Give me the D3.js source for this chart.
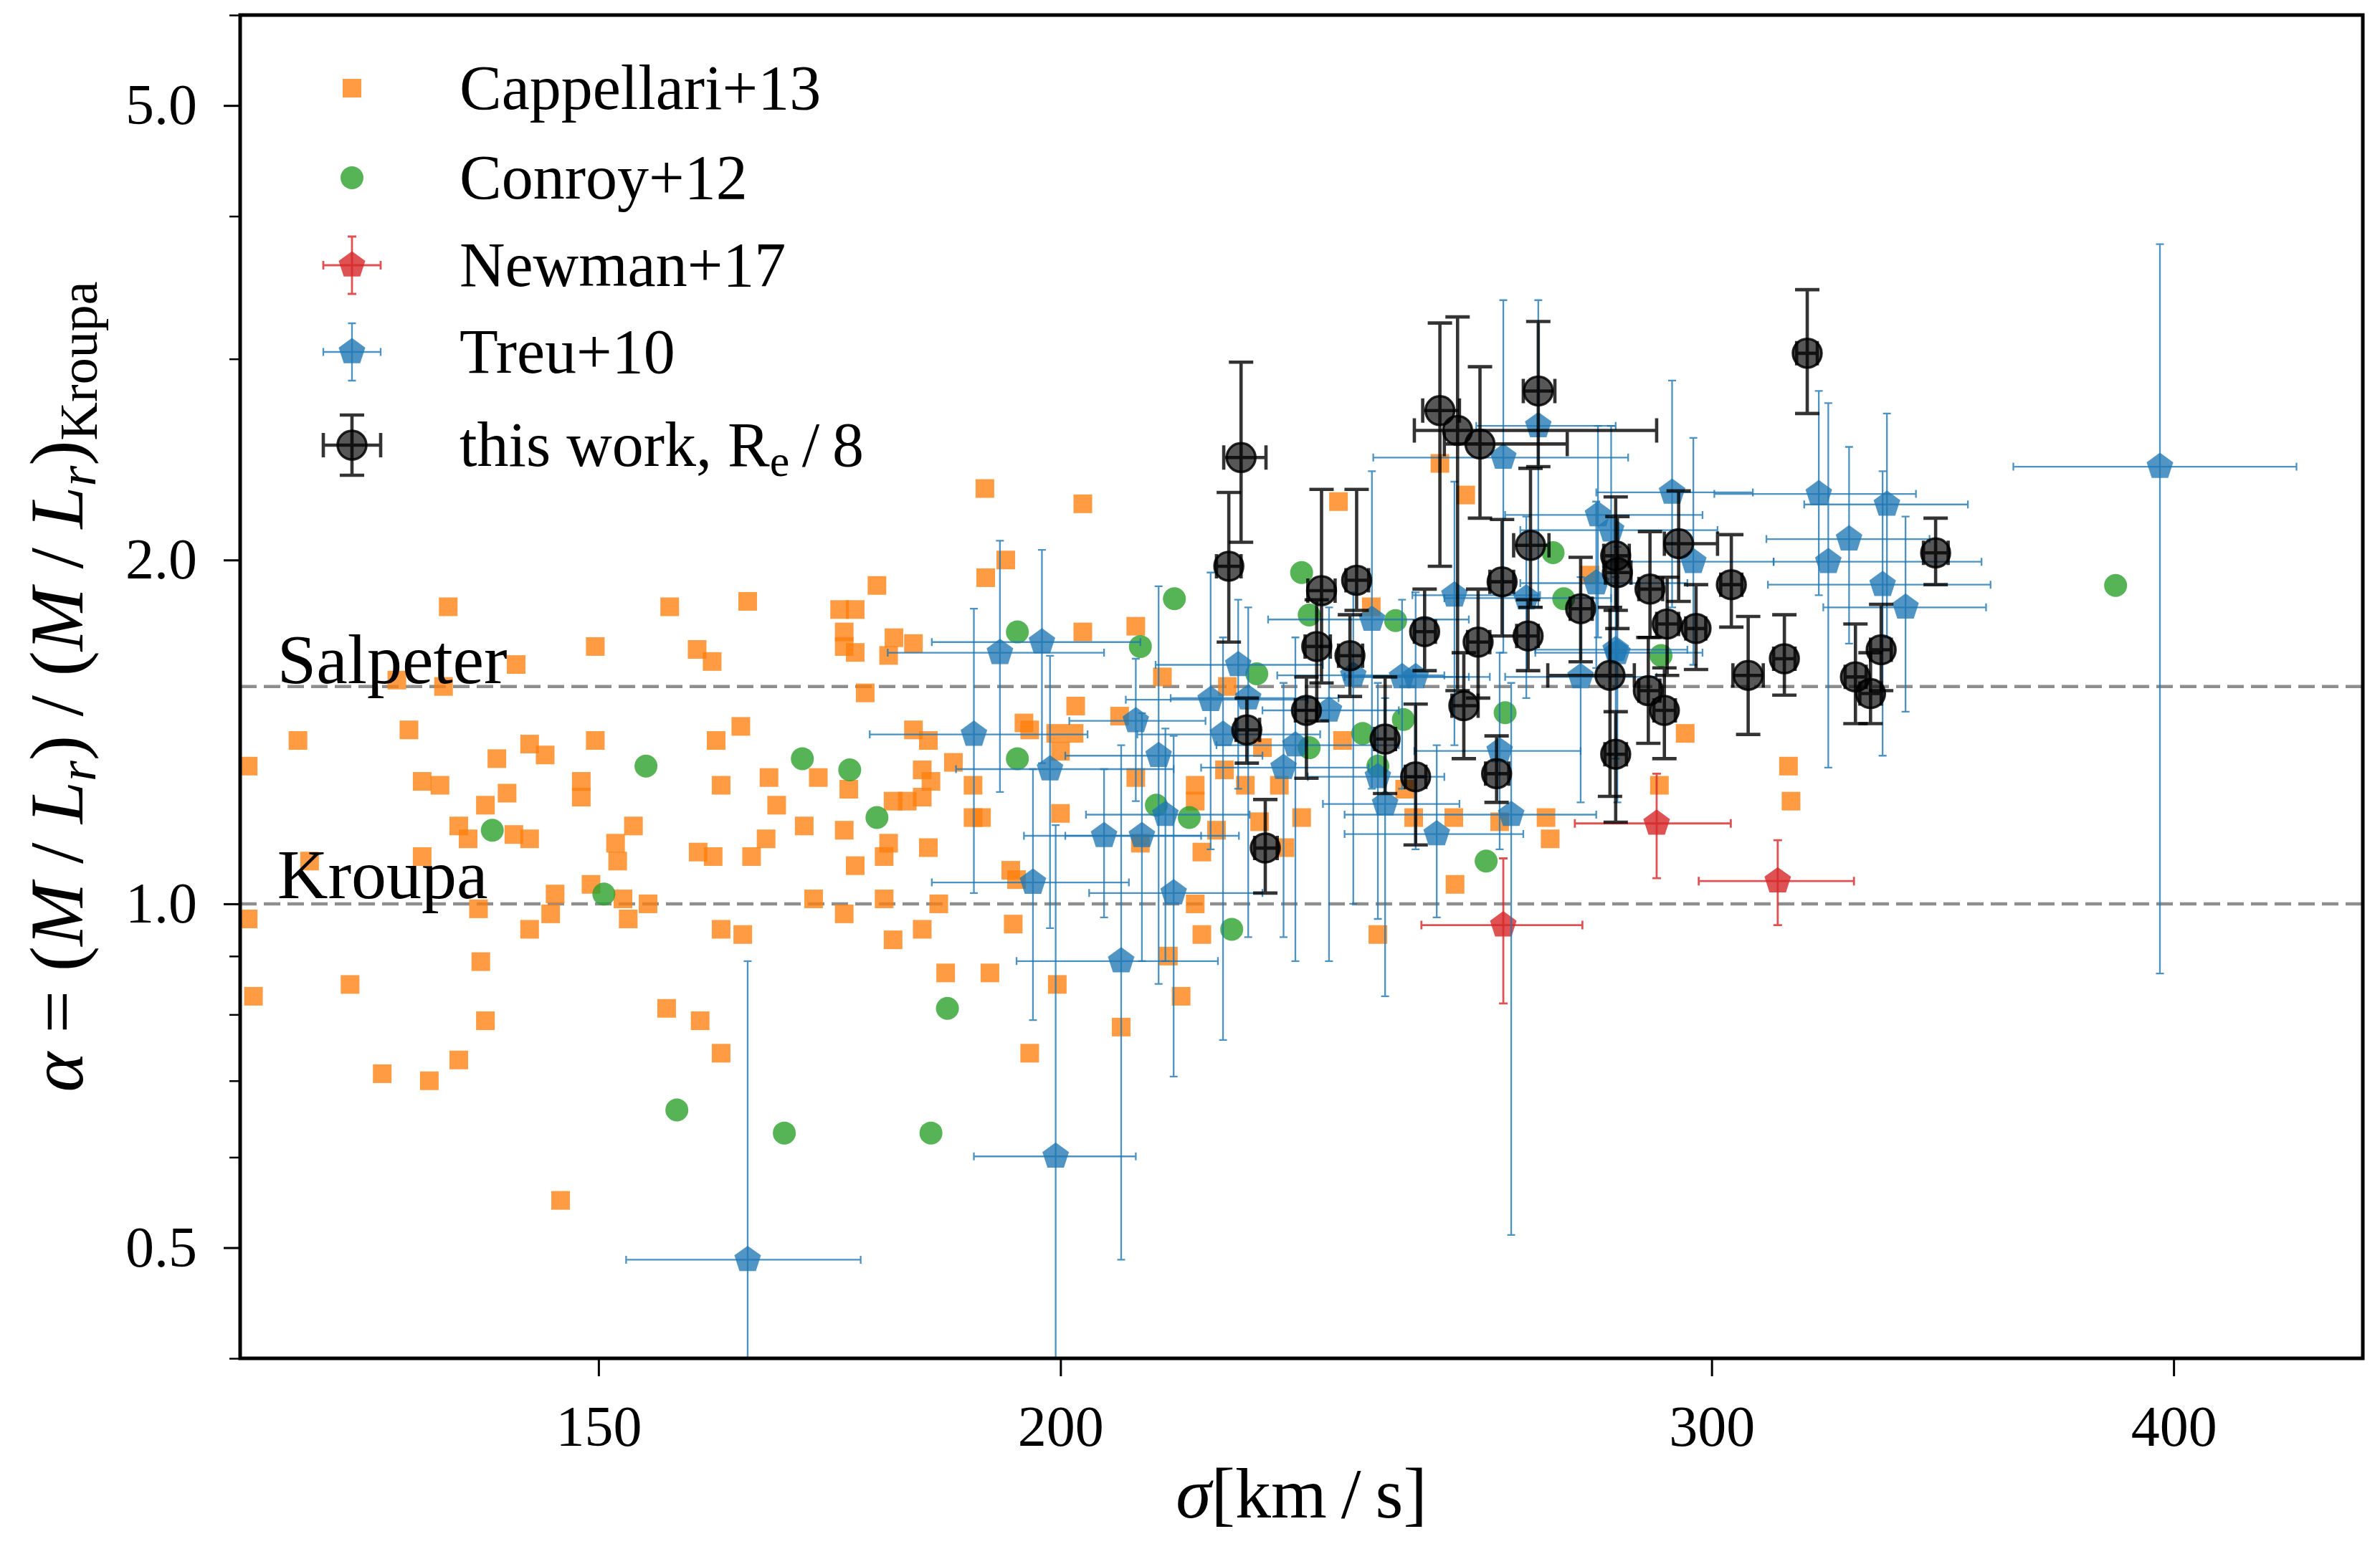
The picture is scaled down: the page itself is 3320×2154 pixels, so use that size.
<!DOCTYPE html>
<html><head><meta charset="utf-8">
<script src="https://cdn.jsdelivr.net/npm/d3@7"></script>
<style>body{margin:0;background:#fff}</style>
</head><body>
<svg id="chart" width="3320" height="2154"></svg>
<script>
// ---------------- DATA ----------------
const sigmaTicks = [150, 200, 300, 400];
const alphaTicks = [0.5, 1.0, 2.0, 5.0];
const alphaMinorTicks = [0.4, 0.6, 0.7, 0.8, 0.9, 3, 4, 6];
const salpeterAlpha = 1.55, kroupaAlpha = 1.0;

const cappellariSigma = [120.6,120.6,121.0,124.4,125.3,128.5,131.1,132.3,133.3,134.4,134.4,135.0,135.9,136.2,136.6,137.5,137.5,138.3,139.2,139.4,139.8,139.8,140.8,141.7,142.3,142.5,143.7,143.7,143.7,145.1,145.6,146.0,146.5,148.4,148.4,149.3,149.7,149.7,151.6,151.8,152.3,152.8,153.3,154.7,156.5,156.8,159.5,159.6,159.8,161.0,161.1,161.4,161.9,161.9,161.9,163.9,164.1,164.6,165.0,166.5,166.8,167.6,170.5,171.5,172.0,174.3,174.8,174.8,174.8,174.8,175.3,176.0,176.0,176.0,177.1,178.4,179.2,179.2,179.7,179.7,180.2,180.2,180.3,181.8,182.5,182.5,183.5,183.5,183.5,184.2,184.2,184.5,185.4,186.2,187.1,189.4,189.4,190.4,190.8,190.9,191.4,193.3,193.9,194.2,194.6,195.5,196.2,196.2,199.4,199.6,200.0,200.0,201.7,201.9,202.8,202.8,207.5,207.7,209.6,209.6,210.2,213.1,213.9,215.6,217.5,217.5,217.5,218.4,218.4,220.4,221.5,224.4,226.8,229.2,237.8,238.4,243.7,247.8,249.2,253.3,255.7,257.4,271.3,290.4,295.1,314.7,315.2,221.9,232.4,226.4,230.0,255.5,262.9,270.6,242.7,278.1];
const cappellariAlpha = [1.32,0.97,0.83,1.39,1.09,0.85,0.71,1.57,1.42,1.28,1.10,0.70,1.27,1.55,1.82,1.17,0.73,1.14,0.99,0.89,1.22,0.79,1.34,1.25,1.15,1.62,1.38,1.14,0.95,1.35,0.98,1.02,0.55,1.28,1.24,1.04,1.68,1.39,1.13,1.09,1.01,0.97,1.17,1.00,0.81,1.82,1.67,1.11,0.79,1.63,1.10,1.39,1.27,0.95,0.74,1.43,0.94,1.84,1.10,1.14,1.29,1.22,1.17,1.01,1.29,1.81,1.73,1.68,1.16,0.98,1.26,1.81,1.66,1.08,1.53,1.90,1.10,1.01,1.65,1.13,1.23,0.93,1.71,1.23,1.69,1.42,1.31,1.24,0.95,1.39,1.12,1.28,1.00,0.87,1.33,1.27,1.19,1.19,2.31,1.93,0.87,2.00,1.07,0.96,1.05,1.44,1.42,0.74,1.41,0.85,1.36,1.20,1.41,1.49,2.24,1.73,1.46,0.78,1.75,1.29,1.13,1.58,0.90,0.83,1.27,1.23,1.00,1.11,0.94,1.16,1.31,1.27,1.37,1.27,2.25,1.39,0.94,1.26,1.19,2.43,1.04,2.28,1.14,1.27,1.41,1.32,1.23,1.55,1.19,1.18,1.12,1.19,1.18,1.19,1.82,1.94];

const conroySigma = [140.4,150.5,154.5,157.5,168.4,170.3,175.4,178.4,184.5,186.4,194.7,194.7,210.2,214.7,212.3,216.7,222.5,232.4,233.5,246.4,271.8,273.6,226.0,247.6,241.4,233.5,243.7,263.8,260.7,290.7,385.8];
const conroyAlpha = [1.16,1.02,1.32,0.66,0.63,1.34,1.31,1.19,0.63,0.81,1.73,1.34,1.68,1.85,1.22,1.19,0.95,1.95,1.79,1.77,2.03,1.85,1.59,1.45,1.41,1.37,1.32,1.47,1.09,1.65,1.90];

const newmanSigma = [263.5, 289.9, 312.6];
const newmanSigmaLo = [250.4, 275.5, 297.6];
const newmanSigmaHi = [276.8, 303.6, 327.8];
const newmanAlpha = [0.958, 1.176, 1.047];
const newmanAlphaLo = [0.818, 1.053, 0.958];
const newmanAlphaHi = [1.096, 1.300, 1.137];

const treuSigma = [164.6,192.6,197.7,189.5,198.7,196.6,199.4,207.7,205.5,210.4,209.6,212.6,213.5,214.6,219.6,221.3,223.4,224.8,231.5,229.8,236.4,240.0,247.4,249.5,243.7,244.8,252.8,264.8,262.9,276.5,282.9,242.8,255.6,263.5,269.3,279.5,281.8,279.2,282.6,267.3,292.7,296.6,320.7,334.6,326.8,322.6,333.7,338.5,396.6];
const treuSigmaLo = [152.6,179.6,184.6,177.6,187.4,184.6,189.5,194.6,195.5,200.6,201.1,200.6,203.2,203.6,208.3,209.8,212.2,214.2,220.4,218.3,226.8,228.9,238.7,238.7,233.3,235.5,238.7,238.7,249.3,263.8,268.8,227.6,249.0,243.0,259.1,263.8,266.3,266.3,268.8,254.0,279.2,281.8,300.5,317.8,310.4,311.8,310.7,321.6,362.0];
const treuSigmaHi = [176.6,205.5,210.2,203.4,214.6,208.7,209.6,220.6,218.3,223.5,218.9,226.8,225.0,226.8,233.3,235.1,235.5,237.8,246.9,242.3,246.9,254.0,257.9,261.3,254.0,256.4,266.8,279.2,276.5,289.9,298.3,257.9,269.6,284.8,282.6,298.3,301.1,295.5,295.5,281.8,307.8,311.8,340.7,351.9,343.6,354.9,356.9,355.9,431.8];
const treuAlpha = [0.488,1.659,1.695,1.407,1.312,1.044,0.601,0.891,1.147,1.147,1.446,1.348,1.197,1.022,1.509,1.407,1.619,1.514,1.377,1.316,1.477,1.585,1.580,1.580,1.292,1.223,1.151,1.197,1.361,1.580,1.659,1.774,1.863,2.459,2.621,2.190,2.124,1.909,1.669,1.852,2.292,1.993,2.285,2.237,2.086,1.993,1.903,1.818,2.414];
const treuAlphaLo = [0.30,1.253,1.328,1.022,0.952,0.791,0.30,0.488,0.973,0.891,1.230,0.851,0.891,0.706,1.116,0.760,1.261,0.935,0.891,0.935,0.891,1.0,1.261,1.116,0.970,0.830,0.973,0.513,1.116,1.227,1.227,1.261,1.377,1.659,1.818,1.711,1.659,1.609,1.340,1.514,1.818,1.619,1.863,1.711,1.690,1.316,1.348,1.473,0.869];
const treuAlphaHi = [0.891,2.079,2.041,1.813,1.649,1.312,1.172,1.377,1.312,1.469,1.639,1.897,1.424,1.403,1.950,1.711,1.846,1.818,1.711,1.561,1.818,1.874,1.846,1.874,1.561,1.514,1.377,1.561,1.659,1.932,2.054,2.392,2.342,3.377,3.377,2.621,2.621,2.250,1.932,2.183,2.872,2.558,2.812,2.687,2.512,2.744,2.392,2.183,3.781];

const workSigma = [223.8,222.1,253.3,256.1,259.7,269.3,268.0,282.6,282.9,263.3,240.5,235.3,234.6,239.5,250.9,259.4,267.6,276.5,281.6,288.7,233.1,224.6,244.8,249.5,227.2,257.1,262.4,282.6,288.4,291.3,318.4,344.9,293.9,303.7,291.8,297.1,306.9,313.9,328.1,333.4,331.2];
const workSigmaLo = [221.4,220.4,250.6,249.3,254.0,266.8,265.2,280.5,280.8,261.3,238.9,233.3,232.9,237.8,249.3,257.7,265.7,274.7,270.9,286.7,231.5,223.1,243.2,247.9,225.7,255.2,260.6,280.7,286.7,289.4,316.3,342.3,291.3,301.7,289.9,295.2,304.0,311.8,326.0,331.2,329.0];
const workSigmaHi = [227.3,223.8,256.4,289.9,274.2,272.1,271.1,285.0,285.3,265.2,242.3,237.3,236.6,241.4,252.6,261.3,269.3,278.5,285.9,291.0,234.6,226.4,246.4,251.1,228.9,259.4,264.4,284.5,290.5,293.3,320.4,347.6,301.1,305.7,293.9,298.9,309.8,316.0,330.3,335.5,333.4];
const workAlpha = [2.459,1.975,2.703,2.597,2.527,2.812,2.060,2.017,1.950,1.914,1.920,1.880,1.680,1.649,1.731,1.695,1.716,1.813,1.585,1.886,1.477,1.420,1.394,1.292,1.119,1.491,1.300,1.352,1.537,1.477,3.034,2.029,2.067,1.903,1.758,1.742,1.585,1.639,1.580,1.669,1.528];
const workAlphaLo = [2.073,1.695,1.975,1.537,2.176,2.414,1.818,1.807,1.742,1.716,1.807,1.561,1.446,1.519,1.600,1.514,1.600,1.629,1.242,1.711,1.288,1.328,1.249,1.126,1.022,1.340,1.227,1.179,1.382,1.340,2.687,1.903,1.840,1.747,1.585,1.604,1.407,1.523,1.438,1.537,1.438];
const workAlphaHi = [2.980,2.292,3.225,3.265,2.953,3.235,2.406,2.271,2.183,2.170,2.306,2.306,1.846,1.791,1.886,1.886,1.846,2.011,1.818,2.118,1.580,1.514,1.580,1.496,1.234,1.659,1.403,1.473,1.711,1.609,3.449,2.176,2.299,2.105,1.932,1.903,1.785,1.791,1.758,1.829,1.659];

const legendLabels = ["Cappellari+13", "Conroy+12", "Newman+17", "Treu+10", "this work, R"];

// ---------------- CHART ----------------
const W = 3320, H = 2154;
const M = {left: 335, right: 3296, top: 21, bottom: 1895};
const FONT = '"Liberation Serif","DejaVu Serif",serif';
const COL = {orange: "#ff7f0e", green: "#2ca02c", red: "#d62728", blue: "#1f77b4"};

const x = d3.scaleLog().domain([120, 450]).range([M.left, M.right]);
const y = d3.scaleLog().domain([0.4, 6]).range([M.bottom, M.top]);

const svg = d3.select("#chart").style("font-family", FONT);
svg.append("rect").attr("width", W).attr("height", H).attr("fill", "#fff");
svg.append("defs").append("clipPath").attr("id", "clip").append("rect")
  .attr("x", M.left).attr("y", M.top).attr("width", M.right - M.left).attr("height", M.bottom - M.top);
const plot = svg.append("g").attr("clip-path", "url(#clip)");

function pentagon(cx, cy, R) {
  const p = [];
  for (let k = 0; k < 5; k++) {
    const a = -Math.PI / 2 + k * 2 * Math.PI / 5;
    p.push([cx + R * Math.cos(a), cy + R * Math.sin(a)]);
  }
  return "M" + p.map(q => q[0].toFixed(2) + "," + q[1].toFixed(2)).join("L") + "Z";
}
function zipErr(s, sl, sh, a, al, ah) {
  return s.map((v, i) => ({s: v, sl: sl[i], sh: sh[i], a: a[i], al: al[i], ah: ah[i]}));
}
function errPath(cx, cy, xl, xh, yl, yh, cap) {
  return `M${xl},${cy}H${xh}M${cx},${yl}V${yh}` +
    `M${xl},${cy - cap}V${cy + cap}M${xh},${cy - cap}V${cy + cap}` +
    `M${cx - cap},${yl}H${cx + cap}M${cx - cap},${yh}H${cx + cap}`;
}
function drawErr(g, data, color, op, lw, cap) {
  g.selectAll(null).data(data).join("path")
    .attr("d", d => errPath(x(d.s), y(d.a), x(d.sl), x(d.sh), y(d.al), y(d.ah), cap))
    .attr("fill", "none").attr("stroke", color).attr("stroke-opacity", op).attr("stroke-width", lw);
}

// reference lines
[salpeterAlpha, kroupaAlpha].forEach(v => {
  plot.append("line").attr("x1", M.left).attr("x2", M.right).attr("y1", y(v)).attr("y2", y(v))
    .attr("stroke", "#8e8e8e").attr("stroke-width", 4.5).attr("stroke-dasharray", "23,10");
});

// Cappellari squares
const cap = cappellariSigma.map((s, i) => ({s, a: cappellariAlpha[i]}));
const SQ = 26;
plot.append("g").selectAll("rect").data(cap).join("rect")
  .attr("x", d => x(d.s) - SQ / 2).attr("y", d => y(d.a) - SQ / 2).attr("width", SQ).attr("height", SQ)
  .attr("fill", COL.orange).attr("fill-opacity", 0.78);

// Conroy circles
const con = conroySigma.map((s, i) => ({s, a: conroyAlpha[i]}));
plot.append("g").selectAll("circle").data(con).join("circle")
  .attr("cx", d => x(d.s)).attr("cy", d => y(d.a)).attr("r", 16)
  .attr("fill", COL.green).attr("fill-opacity", 0.8);

// Newman
const newman = zipErr(newmanSigma, newmanSigmaLo, newmanSigmaHi, newmanAlpha, newmanAlphaLo, newmanAlphaHi);
const gN = plot.append("g");
drawErr(gN, newman, COL.red, 0.8, 2.8, 6);
gN.selectAll(".pm").data(newman).join("path").attr("d", d => pentagon(x(d.s), y(d.a), 19.5))
  .attr("fill", COL.red).attr("fill-opacity", 0.8);

// Treu
const treu = zipErr(treuSigma, treuSigmaLo, treuSigmaHi, treuAlpha, treuAlphaLo, treuAlphaHi);
const gT = plot.append("g");
drawErr(gT, treu, COL.blue, 0.8, 2.3, 5.5);
gT.selectAll(".pm").data(treu).join("path").attr("d", d => pentagon(x(d.s), y(d.a), 19.5))
  .attr("fill", COL.blue).attr("fill-opacity", 0.78);

// this work
const work = zipErr(workSigma, workSigmaLo, workSigmaHi, workAlpha, workAlphaLo, workAlphaHi);
const gW = plot.append("g");
drawErr(gW, work, "#000", 0.8, 4.6, 17);
gW.selectAll("circle").data(work).join("circle")
  .attr("cx", d => x(d.s)).attr("cy", d => y(d.a)).attr("r", 20)
  .attr("fill", "#000").attr("fill-opacity", 0.66)
  .attr("stroke", "#000").attr("stroke-opacity", 0.85).attr("stroke-width", 3.5);

// IMF labels
svg.append("text").attr("x", x(122.8)).attr("y", y(1.56)).attr("font-size", 98).attr("fill", "#000").text("Salpeter");
svg.append("text").attr("x", x(122.8)).attr("y", y(1.012)).attr("font-size", 98).attr("fill", "#000").text("Kroupa");

// ---------------- LEGEND ----------------
const LX = 491, TX = 641, LFS = 88;
const rows = [123, 248, 370, 491, 621];
const leg = svg.append("g");
leg.append("rect").attr("x", LX - 13).attr("y", rows[0] - 13).attr("width", 26).attr("height", 26)
  .attr("fill", COL.orange).attr("fill-opacity", 0.78);
leg.append("circle").attr("cx", LX).attr("cy", rows[1]).attr("r", 16).attr("fill", COL.green).attr("fill-opacity", 0.8);
[[rows[2], COL.red, 2.8, 6], [rows[3], COL.blue, 2.3, 5.5]].forEach(([ry, c, lw, cp]) => {
  leg.append("path").attr("d", errPath(LX, ry, LX - 40, LX + 40, ry + 40, ry - 40, cp))
    .attr("fill", "none").attr("stroke", c).attr("stroke-opacity", 0.8).attr("stroke-width", lw);
  leg.append("path").attr("d", pentagon(LX, ry, 19.5)).attr("fill", c).attr("fill-opacity", 0.8);
});
leg.append("path").attr("d", errPath(LX, rows[4], LX - 40, LX + 40, rows[4] + 42, rows[4] - 42, 17))
  .attr("fill", "none").attr("stroke", "#000").attr("stroke-opacity", 0.8).attr("stroke-width", 4.6);
leg.append("circle").attr("cx", LX).attr("cy", rows[4]).attr("r", 20).attr("fill", "#000").attr("fill-opacity", 0.66)
  .attr("stroke", "#000").attr("stroke-opacity", 0.85).attr("stroke-width", 3.5);
legendLabels.forEach((t, i) => {
  const tx = leg.append("text").attr("x", TX).attr("y", rows[i] + 29).attr("font-size", LFS).attr("fill", "#000");
  tx.append("tspan").text(t);
  if (i === 4) {
    tx.append("tspan").attr("font-size", 62).attr("dy", 14).text("e");
    tx.append("tspan").attr("dy", -14).text("\u2009/\u20098");
  }
});

// ---------------- AXES ----------------
const xAxis = d3.axisBottom(x).tickValues(sigmaTicks).tickFormat(d3.format("d")).tickSize(25).tickSizeOuter(0).tickPadding(40);
const gx = svg.append("g").attr("transform", `translate(0,${M.bottom})`).call(xAxis);
gx.select(".domain").remove();
gx.selectAll(".tick line").attr("stroke", "#000").attr("stroke-width", 3);
gx.selectAll(".tick text").attr("font-size", 80).attr("font-family", FONT).attr("fill", "#000");

const yAxis = d3.axisLeft(y).tickValues(alphaTicks).tickFormat(d3.format(".1f")).tickSize(23).tickSizeOuter(0).tickPadding(37);
const gy = svg.append("g").attr("transform", `translate(${M.left},0)`).call(yAxis);
gy.select(".domain").remove();
gy.selectAll(".tick line").attr("stroke", "#000").attr("stroke-width", 3);
gy.selectAll(".tick text").attr("font-size", 80).attr("font-family", FONT).attr("fill", "#000");

const yMinor = d3.axisLeft(y).tickValues(alphaMinorTicks).tickFormat("").tickSize(15).tickSizeOuter(0);
const gym = svg.append("g").attr("transform", `translate(${M.left},0)`).call(yMinor);
gym.select(".domain").remove();
gym.selectAll(".tick line").attr("stroke", "#000").attr("stroke-width", 2.5);

// frame
svg.append("rect").attr("x", M.left).attr("y", M.top).attr("width", M.right - M.left).attr("height", M.bottom - M.top)
  .attr("fill", "none").attr("stroke", "#000").attr("stroke-width", 5);

// axis labels
const xl = svg.append("text").attr("x", (M.left + M.right) / 2).attr("y", 2117).attr("text-anchor", "middle")
  .attr("font-size", 100).attr("fill", "#000");
xl.append("tspan").attr("font-style", "italic").text("σ");
xl.append("tspan").text("[km\u2009/\u2009s]");

const yl = svg.append("text").attr("transform", `translate(115,${(M.top + M.bottom) / 2}) rotate(-90)`)
  .attr("text-anchor", "middle").attr("font-size", 106).attr("fill", "#000");
const I = t => yl.append("tspan").attr("font-style", "italic").text(t);
const R = t => yl.append("tspan").text(t);
I("α"); R(" = ("); I("M"); R(" / "); I("L");
yl.append("tspan").attr("font-style", "italic").attr("font-size", 74).attr("dy", 18).text("r");
yl.append("tspan").attr("dy", -18).text(") / (");
I("M"); R(" / "); I("L");
yl.append("tspan").attr("font-style", "italic").attr("font-size", 74).attr("dy", 18).text("r");
yl.append("tspan").attr("dy", -18).text(")");
yl.append("tspan").attr("font-size", 74).attr("dy", 20).text("Kroupa");
</script>
</body></html>
